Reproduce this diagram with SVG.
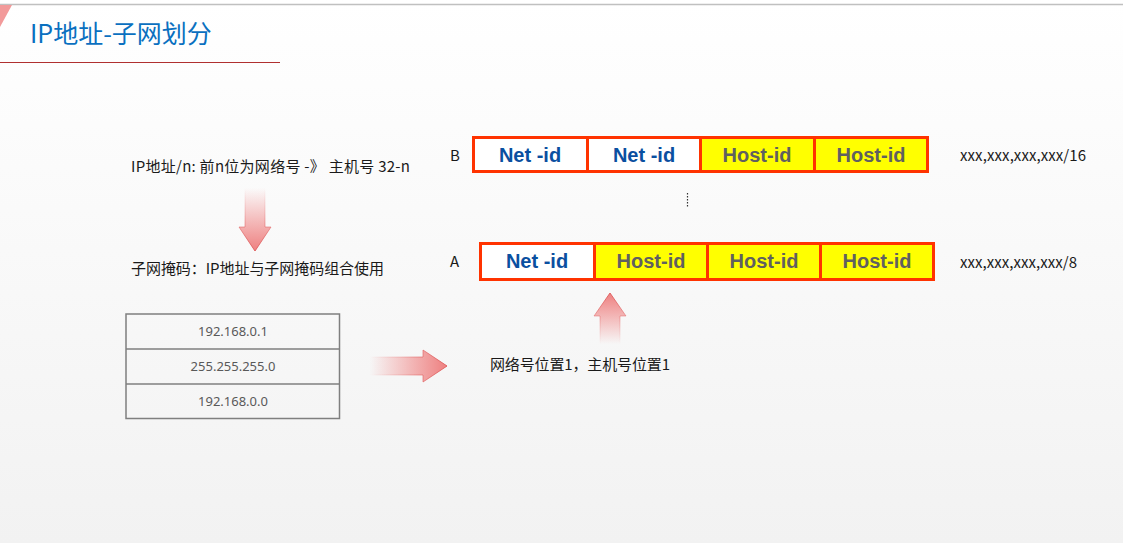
<svg xmlns="http://www.w3.org/2000/svg" width="1123" height="543" viewBox="0 0 1123 543">
<defs>
<linearGradient id="bg" x1="0" y1="0" x2="0" y2="1"><stop offset="0" stop-color="#ffffff"/><stop offset="1" stop-color="#f2f2f2"/></linearGradient>
<linearGradient id="gDown" x1="0" y1="0" x2="0" y2="1"><stop offset="0" stop-color="#f08080" stop-opacity="0"/><stop offset="1" stop-color="#ee8080"/></linearGradient>
<linearGradient id="gUp" x1="0" y1="1" x2="0" y2="0"><stop offset="0" stop-color="#f08080" stop-opacity="0"/><stop offset="1" stop-color="#ee8080"/></linearGradient>
<linearGradient id="gRight" x1="0" y1="0" x2="1" y2="0"><stop offset="0" stop-color="#f08080" stop-opacity="0"/><stop offset="1" stop-color="#ee8080"/></linearGradient>
<linearGradient id="sDown" x1="0" y1="0" x2="0" y2="1"><stop offset="0" stop-color="#e06060" stop-opacity="0"/><stop offset="0.4" stop-color="#e06060" stop-opacity="0.3"/><stop offset="1" stop-color="#e06060"/></linearGradient>
<linearGradient id="sUp" x1="0" y1="1" x2="0" y2="0"><stop offset="0" stop-color="#e06060" stop-opacity="0"/><stop offset="0.4" stop-color="#e06060" stop-opacity="0.3"/><stop offset="1" stop-color="#e06060"/></linearGradient>
<linearGradient id="sRight" x1="0" y1="0" x2="1" y2="0"><stop offset="0" stop-color="#e06060" stop-opacity="0"/><stop offset="0.4" stop-color="#e06060" stop-opacity="0.3"/><stop offset="1" stop-color="#e06060"/></linearGradient>
</defs>
<style>
.t{font-family:"Microsoft YaHei","Noto Sans CJK SC","Noto Sans",sans-serif;fill:#1a1a1a;font-size:15px}
.cell{stroke:#ff3300;stroke-width:3}
.net{fill:#ffffff}
.host{fill:#ffff00}
.nt{font-family:"Liberation Sans",Arial,sans-serif;font-weight:bold;font-size:20px;fill:#0a4fa0;text-anchor:middle}
.ht{font-family:"Liberation Sans",Arial,sans-serif;font-weight:bold;font-size:20px;fill:#606060;text-anchor:middle}
.tb{fill:none;stroke:#7f7f7f;stroke-width:1.5}
.tt{font-family:"Noto Sans","Noto Sans CJK SC",sans-serif;font-size:13px;fill:#595959;text-anchor:middle}
</style>
<rect x="0" y="0" width="1123" height="543" fill="url(#bg)"/>
<line x1="0" y1="4.5" x2="1123" y2="4.5" stroke="#c0c0c0" stroke-width="1.5"/>
<polygon points="0,5 12,5 0,27" fill="#f29a9a"/>
<g id="title">
<text x="30" y="43" font-family="Microsoft YaHei,'Noto Sans CJK SC',sans-serif" font-size="25" fill="#0a70c0">IP地址-子网划分</text>
<line x1="0" y1="62.5" x2="280" y2="62.5" stroke="#b03030" stroke-width="1"/>
</g>
<g id="text-prefix"><text class="t" x="131" y="172" textLength="279" lengthAdjust="spacing">IP地址/n: 前n位为网络号 -》 主机号 32-n</text></g>
<g id="text-mask"><text class="t" x="131" y="274" textLength="253" lengthAdjust="spacing">子网掩码：IP地址与子网掩码组合使用</text></g>
<g id="text-pos"><text class="t" x="490" y="370" textLength="180" lengthAdjust="spacing">网络号位置1，主机号位置1</text></g>
<g id="label-B"><text class="t" x="450" y="161">B</text></g>
<g id="label-A"><text class="t" x="450" y="267">A</text></g>
<g id="cidr-16"><text class="t" x="960" y="161" textLength="126" lengthAdjust="spacing">xxx,xxx,xxx,xxx/16</text></g>
<g id="cidr-8"><text class="t" x="960" y="268" textLength="117" lengthAdjust="spacing">xxx,xxx,xxx,xxx/8</text></g>
<g id="row-B">
<rect class="cell net" x="473.5" y="137.5" width="114" height="34"/>
<rect class="cell net" x="587.5" y="137.5" width="113" height="34"/>
<rect class="cell host" x="700.5" y="137.5" width="114" height="34"/>
<rect class="cell host" x="814.5" y="137.5" width="113" height="34"/>
<text class="nt" x="530" y="162">Net -id</text>
<text class="nt" x="644" y="162">Net -id</text>
<text class="ht" x="757" y="162">Host-id</text>
<text class="ht" x="871" y="162">Host-id</text>
</g>
<g id="row-A">
<rect class="cell net" x="480.5" y="243.5" width="114" height="36"/>
<rect class="cell host" x="594.5" y="243.5" width="113" height="36"/>
<rect class="cell host" x="707.5" y="243.5" width="113" height="36"/>
<rect class="cell host" x="820.5" y="243.5" width="113" height="36"/>
<text class="nt" x="537" y="268">Net -id</text>
<text class="ht" x="651" y="268">Host-id</text>
<text class="ht" x="764" y="268">Host-id</text>
<text class="ht" x="877" y="268">Host-id</text>
</g>
<g id="ellipsis"><line x1="687.5" y1="193" x2="687.5" y2="208" stroke="#333" stroke-width="1.2" stroke-dasharray="1.5,1.5"/></g>
<g id="ip-table">
<rect class="tb" x="126" y="314" width="213.5" height="104.5"/>
<line class="tb" x1="126" y1="349" x2="339.5" y2="349"/>
<line class="tb" x1="126" y1="384" x2="339.5" y2="384"/>
<text class="tt" x="233" y="336">192.168.0.1</text>
<text class="tt" x="233" y="371">255.255.255.0</text>
<text class="tt" x="233" y="406">192.168.0.0</text>
</g>
<g id="connectors">
<polygon points="245,188 265,188 265,227 271,227 255,251 239,227 245,227" fill="url(#gDown)" stroke="url(#sDown)" stroke-width="1"/>
<polygon points="370,357 423,357 423,350 447,366 423,382 423,375 370,375" fill="url(#gRight)" stroke="url(#sRight)" stroke-width="1"/>
<polygon points="600,344 620,344 620,316 626,316 610,293 594,316 600,316" fill="url(#gUp)" stroke="url(#sUp)" stroke-width="1"/>
</g>
</svg>
